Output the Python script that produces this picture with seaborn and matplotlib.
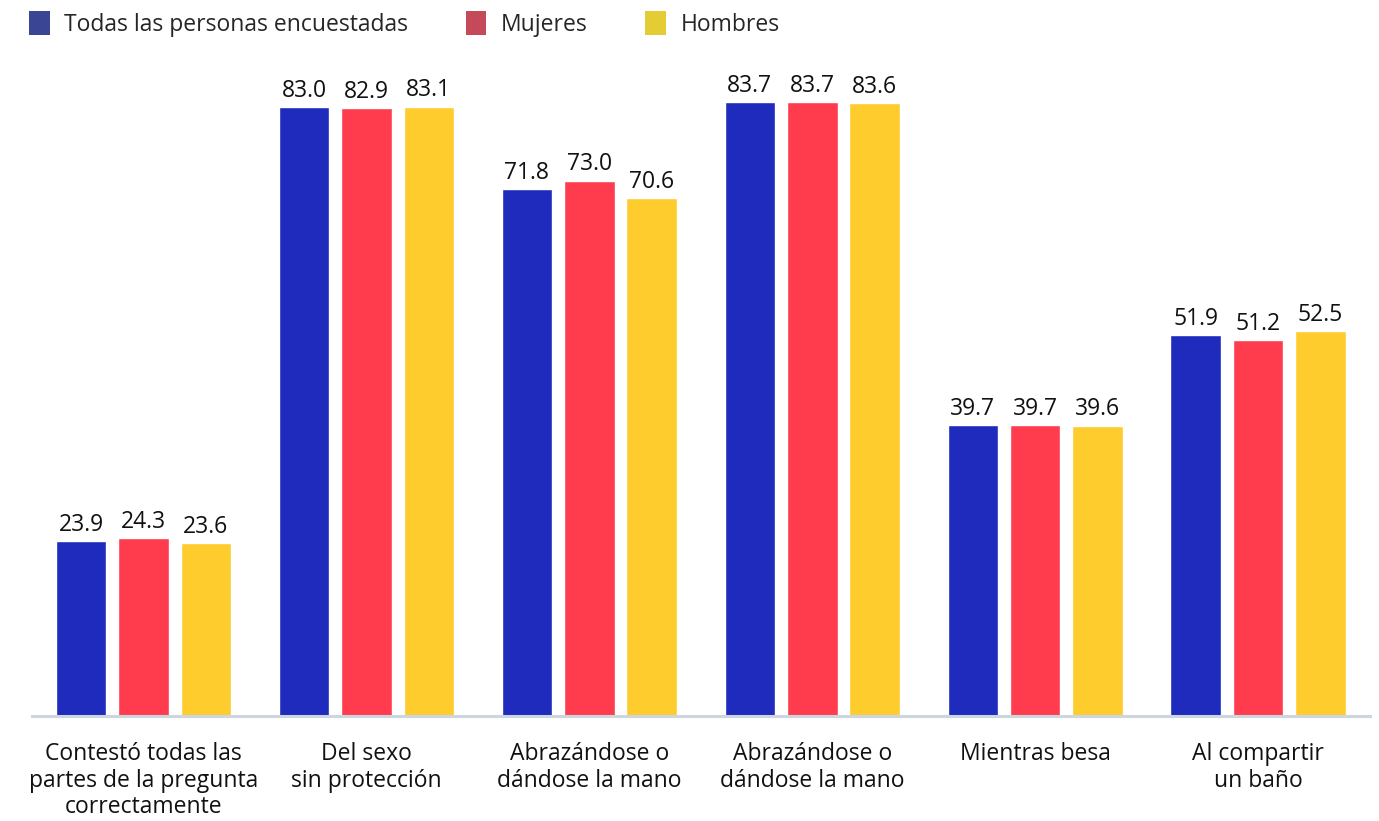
import pandas as pd
import matplotlib
matplotlib.use("Agg")
import matplotlib.pyplot as plt
from matplotlib.patches import Patch
import seaborn as sns

# ---------- Data ----------
categories = [
    "Contestó todas las\npartes de la pregunta\ncorrectamente",
    "Del sexo\nsin protección",
    "Abrazándose o\ndándose la mano",
    "Abrazándose o\ndándose la mano",
    "Mientras besa",
    "Al compartir\nun baño",
]
series = ["Todas las personas encuestadas", "Mujeres", "Hombres"]
todas = [23.9, 83.0, 71.8, 83.7, 39.7, 51.9]
mujeres = [24.3, 82.9, 73.0, 83.7, 39.7, 51.2]
hombres = [23.6, 83.1, 70.6, 83.6, 39.6, 52.5]

bar_colors = ["#1f2bbd", "#ff3c4e", "#ffcc2e"]
legend_colors = ["#3a4593", "#c44a5a", "#e3cc34"]

# categories repeat, so key them by position
rows = []
for name, vals in zip(series, [todas, mujeres, hombres]):
    for i, v in enumerate(vals):
        rows.append({"cat": i, "serie": name, "valor": v})
df = pd.DataFrame(rows)

# ---------- Plot ----------
sns.set_theme(style="white")
plt.rcParams["font.family"] = ["Open Sans", "DejaVu Sans"]

fig = plt.figure(figsize=(13.79, 8.21), dpi=100)
ax = fig.add_axes([0.0232, 0.1279, 0.970, 0.804])

sns.barplot(
    data=df, x="cat", y="valor", hue="serie", hue_order=series,
    palette=bar_colors, width=0.84, gap=0.19, saturation=1,
    legend=False, ax=ax,
)

for cont in ax.containers:
    ax.bar_label(cont, fmt="%.1f", padding=3, fontsize=16.5, color="#111111")

ax.set_ylim(0, 90)
ax.set_xlim(-0.5, 5.5)
ax.set_yticks([])
ax.set_xlabel("")
ax.set_ylabel("")
ax.set_xticks(range(len(categories)))
ax.set_xticklabels(categories, fontsize=16.5, color="#111111", linespacing=1.12)
ax.tick_params(axis="x", length=0, pad=19)

for s in ["top", "right", "left"]:
    ax.spines[s].set_visible(False)
ax.spines["bottom"].set_color("#ccd6e0")
ax.spines["bottom"].set_linewidth(2.2)

handles = [Patch(facecolor=c, edgecolor="none") for c in legend_colors]
fig.legend(
    handles, series, loc="upper left", bbox_to_anchor=(0.006, 1.012),
    ncol=3, frameon=False, fontsize=16.5, handlelength=0.9, handleheight=1.25,
    handletextpad=0.65, columnspacing=2.5,
)

fig.savefig("out.png", dpi=100)
